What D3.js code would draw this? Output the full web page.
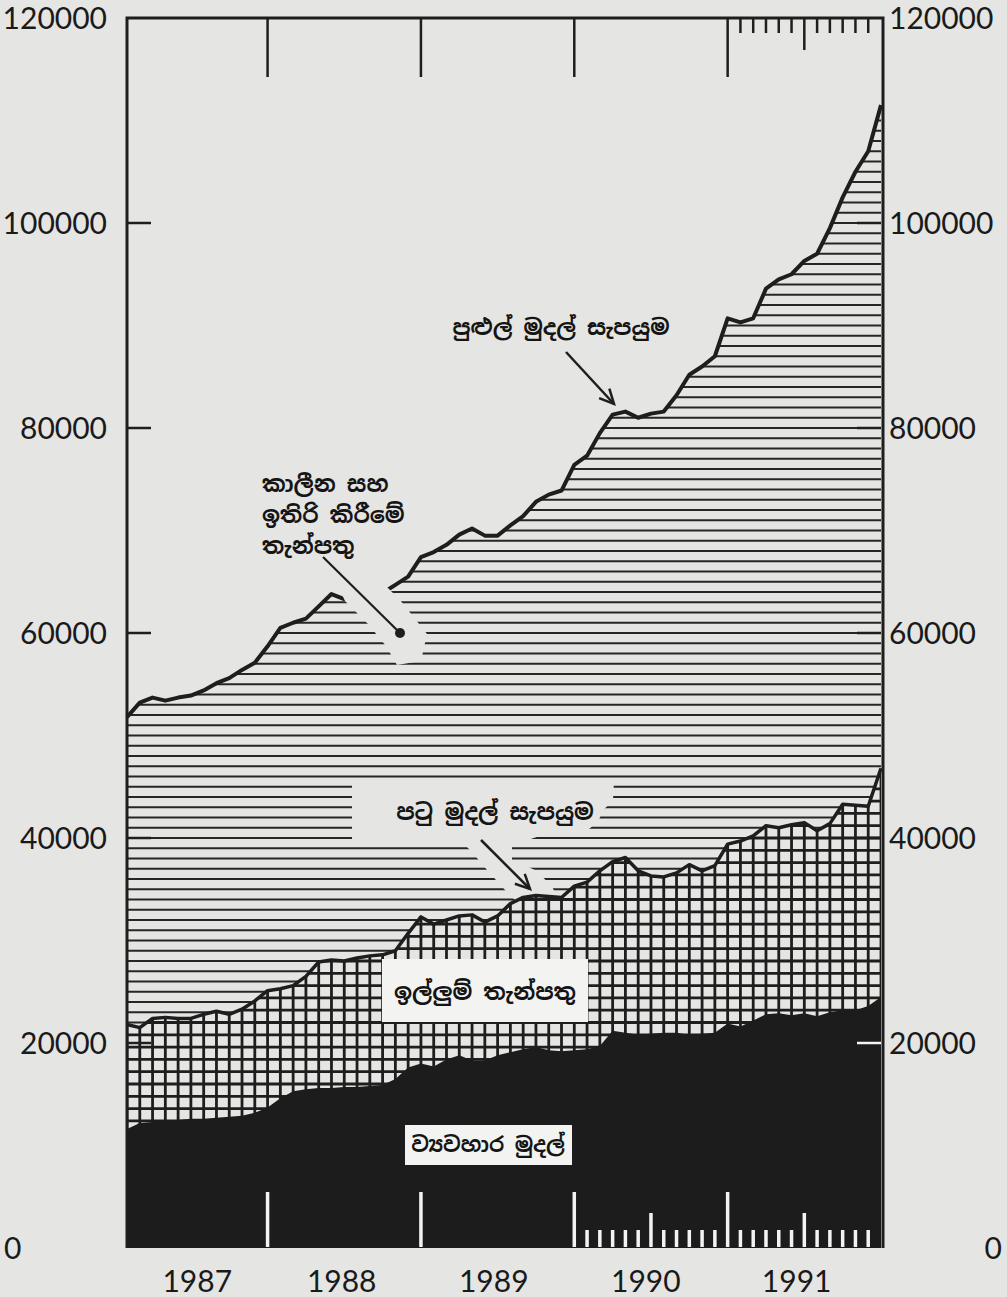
<!DOCTYPE html>
<html>
<head>
<meta charset="utf-8">
<script src="https://cdn.jsdelivr.net/npm/d3@7"></script>
<style>
  html, body { margin: 0; padding: 0; background: #e5e5e3; }
  svg { display: block; }
</style>
</head>
<body>
<svg id="chart" width="1007" height="1297"></svg>
<script>
// ---------- DATA (monthly, Jan 1987 – Dec 1991, Rs. million) ----------
const years = ["1987", "1988", "1989", "1990", "1991"];
const yearLabelPos = [5.5, 16.8, 28.7, 40.6, 52.4];   // month index of year labels
const yearTicks = [11, 23, 35, 47];                     // month index of year separators
const midYearTicks = [41, 53];
const bottomMinorTicks = [36,37,38,39,40,42,43,44,45,46,48,49,50,51,52,54,55,56,57,58];
const topMinorTicks = [48,49,50,51,52,54,55,56,57,58];
const yTickValues = [0, 20000, 40000, 60000, 80000, 100000, 120000];

const broadMoney = [51800, 53200, 53700, 53400, 53700, 53900, 54400, 55100, 55600, 56400, 57100, 58700,
  60500, 61000, 61400, 62600, 63800, 63300, 63400, 63700, 63900, 64700, 65500, 67400,
  67900, 68600, 69600, 70200, 69500, 69500, 70500, 71400, 72800, 73500, 73900, 76400,
  77300, 79500, 81300, 81600, 81000, 81400, 81600, 83200, 85200, 86000, 87000, 90700,
  90300, 90700, 93600, 94500, 95000, 96300, 97000, 99500, 102500, 105000, 107000, 111500];

const narrowMoney = [21800, 21500, 22400, 22500, 22400, 22400, 22800, 23100, 22800, 23300, 24100, 25100,
  25300, 25600, 26500, 27900, 28100, 28000, 28300, 28500, 28600, 29000, 30700, 32300,
  31600, 32000, 32400, 32500, 31800, 32400, 33600, 34200, 34400, 34300, 34200, 35300,
  35700, 36800, 37700, 38100, 36800, 36300, 36200, 36600, 37400, 36800, 37300, 39400,
  39700, 40200, 41200, 41000, 41300, 41500, 40700, 41400, 43300, 43200, 43100, 46800];

const currency = [11600, 12200, 12300, 12500, 12500, 12600, 12600, 12700, 12800, 12900, 13200, 13700,
  14600, 15300, 15500, 15600, 15600, 15700, 15700, 15800, 15900, 16500, 17600, 18000,
  17700, 18400, 18800, 18300, 18300, 18800, 19100, 19400, 19600, 19300, 19200, 19300,
  19400, 19700, 21200, 21000, 20800, 20900, 21000, 21000, 20800, 20900, 21000, 21900,
  21600, 22200, 22800, 22900, 22700, 22900, 22600, 23000, 23200, 23200, 23600, 24500];

const labels = {
  broad: "පුළුල් මුදල් සැපයුම",
  narrow: "පටු මුදල් සැපයුම",
  time: ["කාලීන සහ", "ඉතිරි කිරීමේ", "තැන්පතු"],
  demand: "ඉල්ලුම් තැන්පතු",
  currency: "ව්‍යවහාර මුදල්"
};

// ---------- LAYOUT ----------
const PAPER = "#e5e5e3", BOX = "#f3f3f1", INK = "#1e1e1e";
const svg = d3.select("#chart");
const x = d3.scaleLinear().domain([0, 59]).range([127, 881]);
const y = d3.scaleLinear().domain([0, 120000]).range([1248, 18]);
const pLeft = 127, pRight = 883, pTop = y(120000), pBottom = y(0);
const sinhala = "'Noto Sans Sinhala', 'Iskoola Pota', 'Noto Sans', sans-serif";
const numFont = "Lato, 'Open Sans', sans-serif";

svg.append("rect").attr("width", 1007).attr("height", 1297).attr("fill", PAPER);

const area = d3.area().x((d, i) => x(i)).y0(y(0)).y1(d => y(d));
const line = d3.line().x((d, i) => x(i)).y(d => y(d));

const defs = svg.append("defs");
defs.append("clipPath").attr("id", "clipM2").append("path").attr("d", area(broadMoney));
defs.append("clipPath").attr("id", "clipM1").append("path").attr("d", area(narrowMoney));

// time & savings deposits: horizontal hatching every 1000
svg.append("g").attr("clip-path", "url(#clipM2)")
  .selectAll("line").data(d3.range(1000, 120000, 1000)).join("line")
  .attr("x1", pLeft).attr("x2", pRight).attr("y1", d => y(d)).attr("y2", d => y(d))
  .attr("stroke", "#262626").attr("stroke-width", 2);

// broad money outline
svg.append("path").attr("d", line(broadMoney)).attr("fill", "none")
  .attr("stroke", INK).attr("stroke-width", 4).attr("stroke-linejoin", "round");

// label cut-outs in hatching
svg.append("polygon").attr("fill", PAPER)
  .attr("points", "338,586 386,586 400,600 427,634 421,661 397,665 386,646 368,624 345,601");
svg.append("polygon").attr("fill", PAPER)
  .attr("points", "352,780 614,780 613,801 603,810 598,822 585,832 540,836 512,845 512,860 535,870 552,886 560,905 520,905 505,890 487,870 472,852 465,845 352,845");

// demand deposits: grid hatching
svg.append("path").attr("d", area(narrowMoney)).attr("fill", PAPER);
const grid = svg.append("g").attr("clip-path", "url(#clipM1)");
grid.selectAll("line.v").data(d3.range(60)).join("line").attr("class", "v")
  .attr("x1", d => x(d)).attr("x2", d => x(d)).attr("y1", pTop).attr("y2", pBottom)
  .attr("stroke", INK).attr("stroke-width", 2.8);
grid.selectAll("line.h").data(d3.range(400, 60000, 1200)).join("line").attr("class", "h")
  .attr("x1", pLeft).attr("x2", pRight).attr("y1", d => y(d)).attr("y2", d => y(d))
  .attr("stroke", INK).attr("stroke-width", 2.8);

// currency: solid black
svg.append("path").attr("d", area(currency)).attr("fill", "#1c1c1c");

// narrow money outline
svg.append("path").attr("d", line(narrowMoney)).attr("fill", "none")
  .attr("stroke", INK).attr("stroke-width", 3.5).attr("stroke-linejoin", "round");

// label boxes
svg.append("rect").attr("x", 382).attr("y", 959).attr("width", 206).attr("height", 63).attr("fill", BOX);
svg.append("rect").attr("x", 405).attr("y", 1125).attr("width", 167).attr("height", 40).attr("fill", BOX);

// ---------- FRAME & TICKS ----------
svg.append("path").attr("fill", "none").attr("stroke", INK).attr("stroke-width", 3)
  .attr("d", `M${pLeft},${pBottom}V${pTop}H${pRight}V${pBottom}`);

// top ticks
svg.selectAll("line.ty").data(yearTicks).join("line").attr("class", "ty")
  .attr("x1", d => x(d)).attr("x2", d => x(d)).attr("y1", pTop).attr("y2", 77)
  .attr("stroke", INK).attr("stroke-width", 2.5);
svg.selectAll("line.tm").data(topMinorTicks).join("line").attr("class", "tm")
  .attr("x1", d => x(d)).attr("x2", d => x(d)).attr("y1", pTop).attr("y2", 33)
  .attr("stroke", INK).attr("stroke-width", 2.5);
svg.selectAll("line.tmid").data([53]).join("line").attr("class", "tmid")
  .attr("x1", d => x(d)).attr("x2", d => x(d)).attr("y1", pTop).attr("y2", 50)
  .attr("stroke", INK).attr("stroke-width", 2.5);

// bottom ticks (white inside the black area)
svg.selectAll("line.by").data(yearTicks).join("line").attr("class", "by")
  .attr("x1", d => x(d)).attr("x2", d => x(d)).attr("y1", 1192).attr("y2", pBottom - 1)
  .attr("stroke", BOX).attr("stroke-width", 3.5);
svg.selectAll("line.bmid").data(midYearTicks).join("line").attr("class", "bmid")
  .attr("x1", d => x(d)).attr("x2", d => x(d)).attr("y1", 1213).attr("y2", pBottom - 1)
  .attr("stroke", BOX).attr("stroke-width", 3.5);
svg.selectAll("line.bm").data(bottomMinorTicks).join("line").attr("class", "bm")
  .attr("x1", d => x(d)).attr("x2", d => x(d)).attr("y1", 1230).attr("y2", pBottom - 1)
  .attr("stroke", BOX).attr("stroke-width", 3.5);

// y ticks
svg.selectAll("line.yl").data(yTickValues.slice(1, 6)).join("line").attr("class", "yl")
  .attr("x1", pLeft).attr("x2", pLeft + 24).attr("y1", d => y(d)).attr("y2", d => y(d))
  .attr("stroke", INK).attr("stroke-width", 2.5);
svg.selectAll("line.yr").data(yTickValues.slice(1, 6)).join("line").attr("class", "yr")
  .attr("x1", pRight - 26).attr("x2", pRight - 2).attr("y1", d => y(d)).attr("y2", d => y(d))
  .attr("stroke", d => d === 20000 ? BOX : INK).attr("stroke-width", 2.5);

// y labels
svg.selectAll("text.yl").data(yTickValues).join("text").attr("class", "yl")
  .attr("x", d => d === 0 ? 4 : 107).attr("y", d => y(d))
  .attr("text-anchor", d => d === 0 ? "start" : "end").attr("dy", "0.36em")
  .attr("font-family", numFont).attr("font-size", 30).attr("fill", "#1a1a1a")
  .text(d => d);
svg.selectAll("text.yr").data(yTickValues).join("text").attr("class", "yr")
  .attr("x", d => d === 0 ? 1002 : 889).attr("y", d => y(d))
  .attr("text-anchor", d => d === 0 ? "end" : "start").attr("dy", "0.36em")
  .attr("font-family", numFont).attr("font-size", 30).attr("fill", "#1a1a1a")
  .text(d => d);

// year labels
svg.selectAll("text.yr2").data(years).join("text").attr("class", "yr2")
  .attr("x", (d, i) => x(yearLabelPos[i])).attr("y", 1281)
  .attr("text-anchor", "middle").attr("dy", "0.36em")
  .attr("font-family", numFont).attr("font-size", 30).attr("fill", "#1a1a1a")
  .text(d => d);

// ---------- ANNOTATIONS ----------
function txt(s, cx, cy, anchor, size) {
  svg.append("text").attr("x", cx).attr("y", cy).attr("dy", "0.35em")
    .attr("text-anchor", anchor || "middle")
    .attr("font-family", sinhala).attr("font-weight", "bold").attr("font-size", size || 22)
    .attr("fill", "#151515").text(s);
}
function arrow(x1, y1, x2, y2) {
  svg.append("line").attr("x1", x1).attr("y1", y1).attr("x2", x2).attr("y2", y2)
    .attr("stroke", INK).attr("stroke-width", 2.5);
  const a = Math.atan2(y2 - y1, x2 - x1), L = 16, w = 0.45;
  svg.append("path").attr("fill", "none").attr("stroke", INK).attr("stroke-width", 2.5)
    .attr("stroke-linejoin", "miter")
    .attr("d", `M${x2 - L * Math.cos(a - w)},${y2 - L * Math.sin(a - w)}L${x2},${y2}L${x2 - L * Math.cos(a + w)},${y2 - L * Math.sin(a + w)}`);
}

txt(labels.broad, 561, 327, "middle", 22);
arrow(566, 352, 614, 404);

txt(labels.narrow, 495, 812, "middle", 22.5);
arrow(481, 840, 530, 889);

labels.time.forEach((s, i) => txt(s, 262, 484 + i * 31, "start", 22.5));
svg.append("line").attr("x1", 323).attr("y1", 557).attr("x2", 400).attr("y2", 633)
  .attr("stroke", INK).attr("stroke-width", 2.2);
svg.append("circle").attr("cx", 400).attr("cy", 633).attr("r", 5).attr("fill", INK);

txt(labels.demand, 485, 992, "middle", 22.5);
txt(labels.currency, 488, 1145, "middle", 21);
</script>
</body>
</html>
